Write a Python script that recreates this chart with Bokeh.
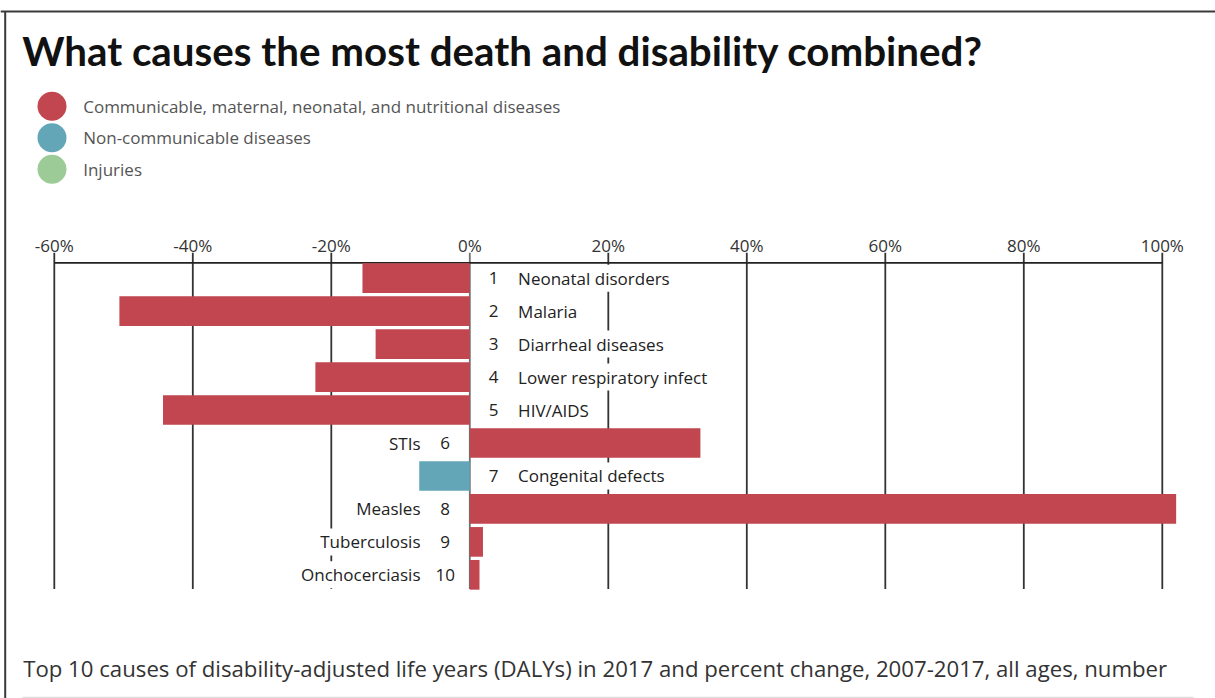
from bokeh.plotting import figure
from bokeh.models import ColumnDataSource, Range1d
from bokeh.core.properties import value
from bokeh.embed import file_html
from bokeh.resources import INLINE

# ---------------- data ----------------
TITLE = "What causes the most death and disability combined?"
CAPTION = ("Top 10 causes of disability-adjusted life years (DALYs) in 2017 and percent change, "
           "2007-2017, all ages, number")

legend_labels = [
    "Communicable, maternal, neonatal, and nutritional diseases",
    "Non-communicable diseases",
    "Injuries",
]
legend_colors = ["#C1464F", "#62A6B8", "#9CCB98"]

ranks = [1, 2, 3, 4, 5, 6, 7, 8, 9, 10]
causes = [
    "Neonatal disorders", "Malaria", "Diarrheal diseases", "Lower respiratory infect",
    "HIV/AIDS", "STIs", "Congenital defects", "Measles", "Tuberculosis", "Onchocerciasis",
]
pct_change = [-15.5, -50.6, -13.6, -22.3, -44.3, 33.3, -7.3, 102.0, 1.9, 1.4]
cause_group = [0, 0, 0, 0, 0, 0, 1, 0, 0, 0]

tick_values = [-60, -40, -20, 0, 20, 40, 60, 80, 100]
tick_labels = ["-60%", "-40%", "-20%", "0%", "20%", "40%", "60%", "80%", "100%"]

# ---------------- layout helpers (page px -> data units) ----------------
W, H = 1215, 698
X_ZERO, X_PER = 469.3, 6.925      # page x of 0 %, px per 1 %
ROW1, ROW_PITCH = 277.7, 32.96    # page y of rank 1, px per rank


def dx(page_x):
    return (page_x - X_ZERO) / X_PER


def dy(page_y):
    return 1 + (page_y - ROW1) / ROW_PITCH


p = figure(width=W, height=H,
           x_range=Range1d(dx(0), dx(W)),
           y_range=Range1d(dy(H), dy(0)),
           min_border=0, x_axis_type=None, y_axis_type=None,
           toolbar_location=None, output_backend="svg",
           outline_line_color=None, background_fill_color="white",
           border_fill_color="white")

LATO = value("Lato")
OPEN = value("Open Sans")

# frame border (top and left) and bottom rule
p.segment(x0=[dx(0), dx(4.7)], y0=[dy(11), dy(11)], x1=[dx(W), dx(4.7)], y1=[dy(11), dy(H)],
          line_color="#3a3a3a", line_width=2)
p.segment(x0=[dx(22)], y0=[dy(697.8)], x1=[dx(1193)], y1=[dy(697.8)],
          line_color="#dddddd", line_width=3)

# title
p.text(x=[dx(21.7)], y=[dy(50)], text=[TITLE], text_font=LATO, text_font_style="bold",
       text_font_size="40.3px", text_color="#111111", text_baseline="middle")

# legend
leg = ColumnDataSource(dict(
    x=[dx(51.5)] * len(legend_labels),
    tx=[dx(82.7)] * len(legend_labels),
    y=[dy(105.8 + i * 31.5) for i in range(len(legend_labels))],
    label=legend_labels, color=legend_colors))
p.scatter(x="x", y="y", size=29, fill_color="color", line_color=None, source=leg)
p.text(x="tx", y="y", text="label", source=leg, text_font=OPEN, text_font_size="17px",
       text_color="#555555", text_baseline="middle")

# gridlines + ticks, axis line
grid = ColumnDataSource(dict(
    x=tick_values, label=tick_labels,
    color=["#707070" if v == 0 else "#333333" for v in tick_values]))
p.segment(x0="x", y0=dy(252.3), x1="x", y1=dy(588.5), line_color="color",
          line_width=1.8, source=grid)
p.segment(x0=[min(tick_values)], y0=[dy(262.3)], x1=[max(tick_values)], y1=[dy(262.3)],
          line_color="#222222", line_width=1.8)
p.text(x="x", y=dy(244.7), text="label", text_font=OPEN, text_font_size="17px",
       text_color="#333333", text_align="center", text_baseline="middle", source=grid)

# bars
bars = ColumnDataSource(dict(
    rank=ranks, cause=causes, pct=pct_change,
    rank_txt=[str(r) for r in ranks],
    color=[legend_colors[g] for g in cause_group],
    name_align=["left" if v < 0 else "right" for v in pct_change],
    name_off=[46.3 if v < 0 else -47.3 for v in pct_change],
    num_off=[23.7 if v < 0 else -24.6 for v in pct_change],
    zero=[0] * len(ranks)))
p.hbar(y="rank", left="zero", right="pct", height=0.9, fill_color="color",
       line_color=None, source=bars)

p.text(x="zero", y="rank", text="cause", x_offset="name_off", text_align="name_align",
       text_baseline="middle", text_font=OPEN, text_font_size="17px", text_color="#222222",
       background_fill_color="white", padding=2, source=bars)
p.text(x="zero", y="rank", text="rank_txt", x_offset="num_off", text_align="center",
       text_baseline="middle", text_font=OPEN, text_font_size="17px", text_color="#222222",
       source=bars)

# caption
p.text(x=[dx(22.7)], y=[dy(667.5)], text=[CAPTION], text_font=OPEN,
       text_font_size="22.2px", text_color="#333333", text_baseline="middle")

open("out.html", "w").write(file_html(p, INLINE))
